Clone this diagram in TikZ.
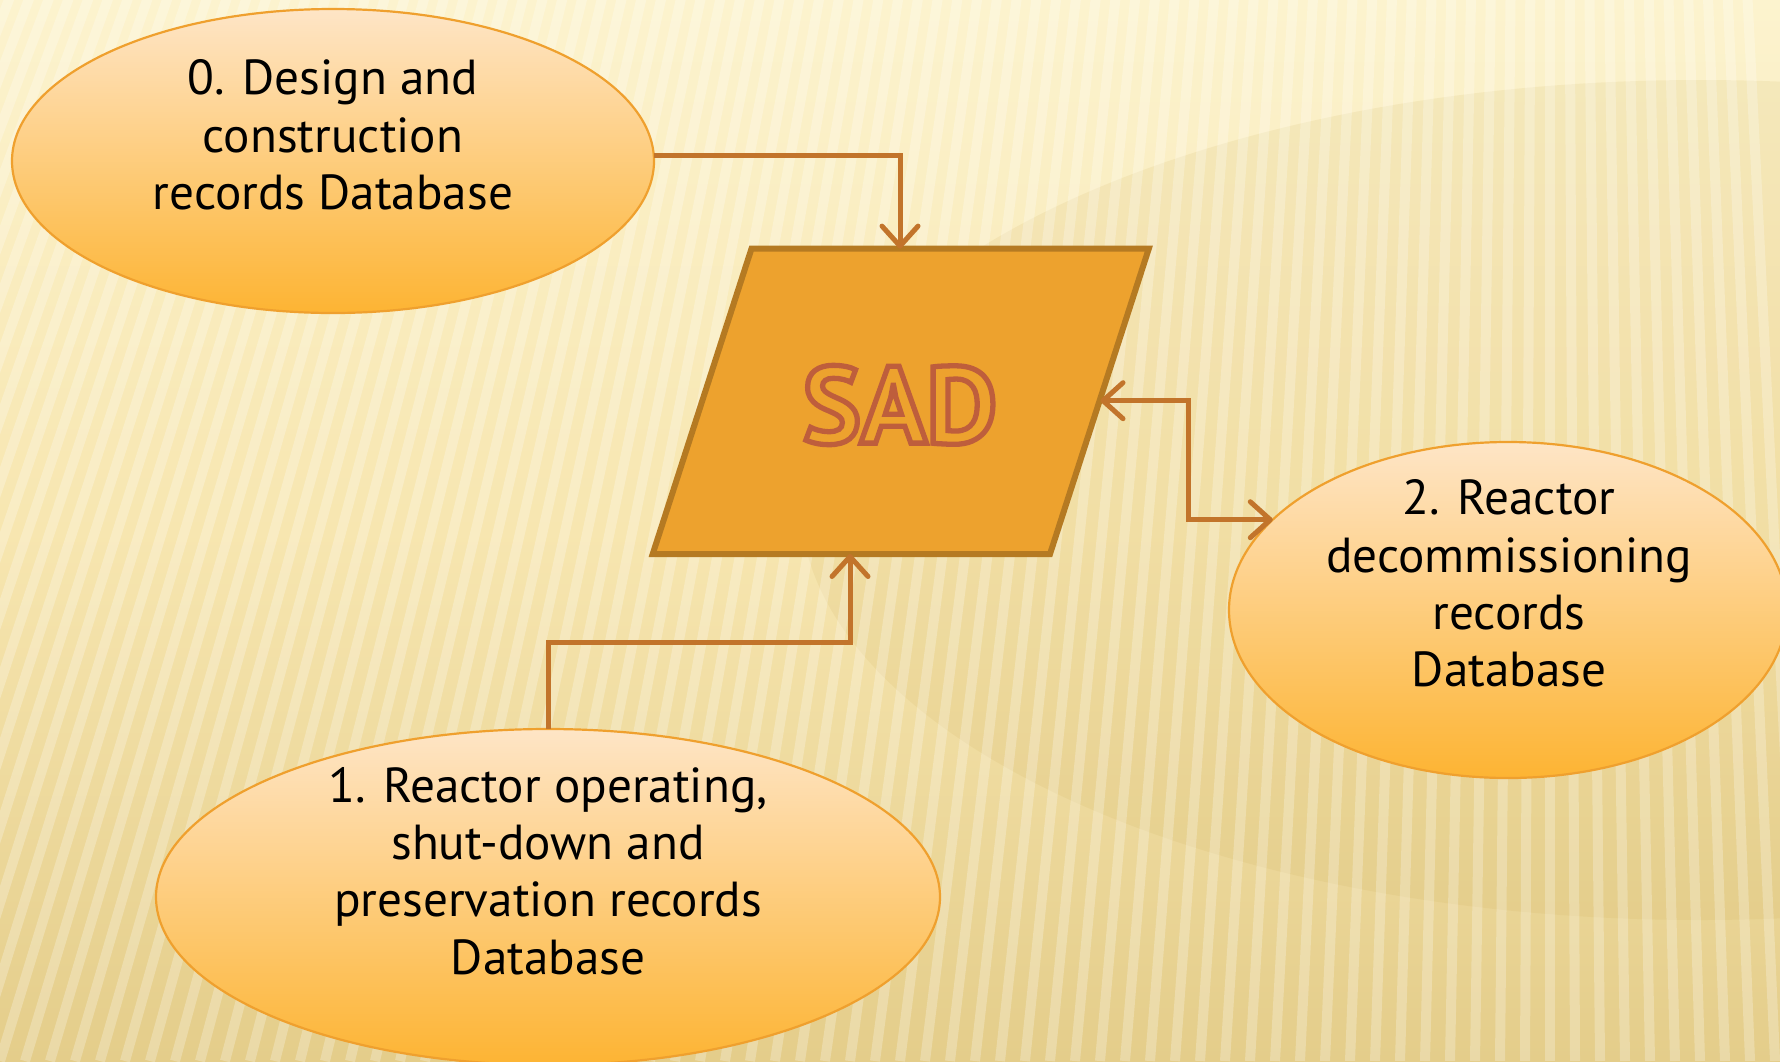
\documentclass[tikz,border=0pt]{standalone}
\usepackage{fontspec}
\setmainfont{PT Sans}
\usetikzlibrary{shapes.geometric,arrows.meta}
\definecolor{bgtop}{HTML}{FCF3CE}
\definecolor{bgmid}{HTML}{F7E6B0}
\definecolor{bgbot}{HTML}{E4CD8A}
\definecolor{shadow}{HTML}{C9A850}
\definecolor{elltop}{HTML}{FEE5C6}
\definecolor{ellbot}{HTML}{FDB433}
\definecolor{ellborder}{HTML}{EFA02E}
\definecolor{parafill}{HTML}{EDA22E}
\definecolor{paraborder}{HTML}{B57A22}
\definecolor{conncol}{HTML}{C2742B}
\definecolor{sadline}{HTML}{BE5E3C}
\newcommand{\outlinetext}[1]{\special{pdf:literal direct 1 Tr 1.5 w}#1\special{pdf:literal direct 0 Tr}}
\tikzset{
  dbnode/.style={ellipse, draw=ellborder, line width=0.22mm, top color=elltop, bottom color=ellbot, inner sep=0pt, outer sep=0pt},
  dbtext/.style={align=center, text=black, font=\fontsize{14pt}{16.3pt}\selectfont},
  conn/.style={draw=conncol, line width=0.5mm, line join=miter},
  tip/.style={-{Straight Barb[length=2mm,width=3.6mm,round]}},
  bothtips/.style={{Straight Barb[length=2mm,width=3.6mm,round]}-{Straight Barb[length=2mm,width=3.6mm,round]}},
  stripe/.style={white, opacity=0.25, line width=1mm}
}
\begin{document}
\begin{tikzpicture}[x=0.1mm,y=-0.1mm]
% background
\useasboundingbox (0,0) rectangle (1780,1061);
\shade[top color=bgtop, bottom color=bgbot, middle color=bgmid] (0,0) rectangle (1780,1061);
\begin{scope}
  \clip (0,0) rectangle (1780,1061);
  \fill[shadow, opacity=0.12] (1700,500) ellipse [x radius=90mm, y radius=42mm];
  \foreach \i in {-17,...,72} {
    \draw[stripe] (1550,-4000) -- (\i*25,1061);
  }
\end{scope}

% database ellipses
\node[dbnode, minimum width=64.2mm, minimum height=30.4mm] (e0) at (333,161) {};
\node[dbnode, minimum width=78.4mm, minimum height=33.6mm] (e1) at (548,897) {};
\node[dbnode, minimum width=55.8mm, minimum height=33.6mm] (e2) at (1508,610) {};

\node[dbtext] (t0) at (333,135) {0. Design and\\construction\\records Database};
\node[dbtext] (t1) at (548,871) {1. Reactor operating,\\shut-down and\\preservation records\\Database};
\node[dbtext] (t2) at (1509,583.5) {2. Reactor\\decommissioning\\records\\Database};

% SAD parallelogram
\coordinate (pTL) at (751.5,248.6);
\coordinate (pTR) at (1148.8,248.6);
\coordinate (pBR) at (1050,554);
\coordinate (pBL) at (652.7,554);
\draw[fill=parafill, draw=paraborder, line width=0.6mm, line join=miter] (pTL) -- (pTR) -- (pBR) -- (pBL) -- cycle;
\node[text=sadline, inner sep=0pt] (sad) at (900,405) {\fontsize{31pt}{31pt}\selectfont\bfseries\outlinetext{SAD}};

% connector anchor points
\coordinate (pTop) at (900,248.6);
\coordinate (pBot) at (850,554);
\coordinate (pRight) at (1100.5,400.7);
\coordinate (c1) at (548,642.5);
\coordinate (c2) at (1188.5,400.7);

% connectors
\draw[conn, tip] (e0.1.6) -| (pTop);
\draw[conn, tip] (e1.north) -- (c1) -| (pBot);
\draw[conn, bothtips] (pRight) -- (c2) |- (e2.159.7);
\end{tikzpicture}
\end{document}
